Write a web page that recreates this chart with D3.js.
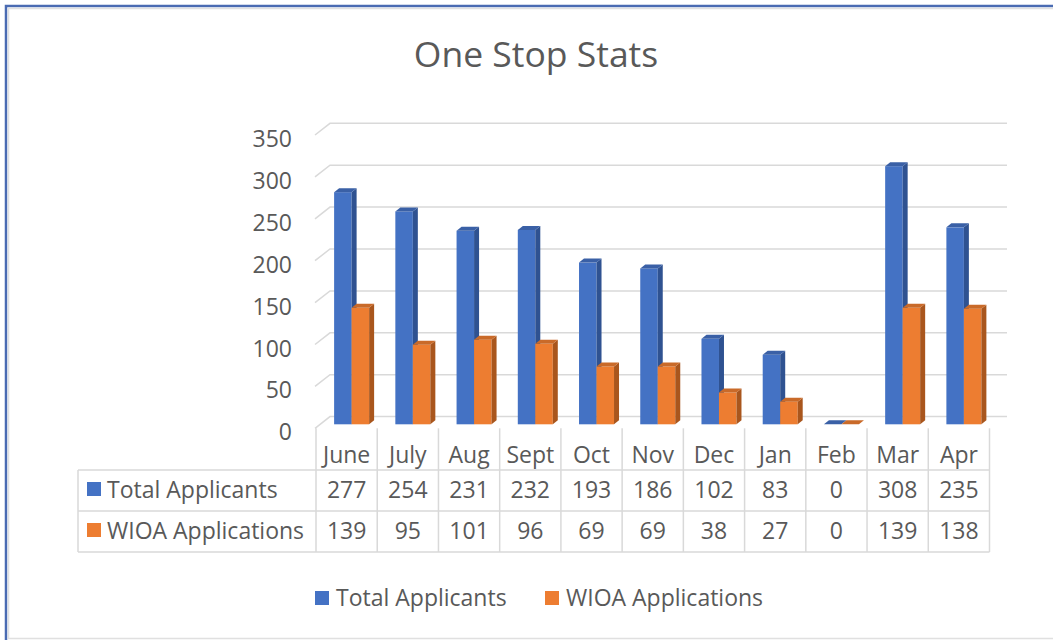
<!DOCTYPE html>
<html>
<head>
<meta charset="utf-8">
<title>One Stop Stats</title>
<script src="https://cdn.jsdelivr.net/npm/d3@7"></script>
<style>
    html, body { margin: 0; padding: 0; background: #fff; }
    #chart { width: 1053px; height: 640px; }
    text { font-family: "Open Sans", "Noto Sans", sans-serif; fill: #595959; }
</style>
</head>
<body>
<div id="chart"></div>
<script>
// Data
const months = ["June", "July", "Aug", "Sept", "Oct", "Nov", "Dec", "Jan", "Feb", "Mar", "Apr"];
const totalApplicants = [277, 254, 231, 232, 193, 186, 102, 83, 0, 308, 235];
const wioaApplications = [139, 95, 101, 96, 69, 69, 38, 27, 0, 139, 138];
const seriesNames = ["Total Applicants", "WIOA Applications"];
const yTicks = [0, 50, 100, 150, 200, 250, 300, 350];

document.addEventListener("DOMContentLoaded", () => {
    const width = 1053, height = 640;
    const fontSize = "23px";
    const colors = [
        { front: "#4472C4", side: "#2f5291", top: "#3a60a6" },
        { front: "#ED7D31", side: "#a9561d", top: "#c96a29" }
    ];
    const series = [totalApplicants, wioaApplications];

    const svg = d3.select("#chart").append("svg")
        .attr("width", width)
        .attr("height", height);

    // Outer frame (blue on left/top, grey inner edge)
    svg.append("path")
        .attr("d", `M6,${height} V6 H${width}`)
        .attr("fill", "none").attr("stroke", "#4a6bb2").attr("stroke-width", 2.5);
    svg.append("path")
        .attr("d", `M${width},8.5 H8.5 V638.5 H${width}`)
        .attr("fill", "none").attr("stroke", "#e0e0e0").attr("stroke-width", 1.5);

    // Title
    svg.append("text")
        .attr("x", 536).attr("y", 67)
        .attr("text-anchor", "middle")
        .style("font-size", "35.5px")
        .text("One Stop Stats");

    // Scales: the x band matches the data table columns (front plane)
    const x = d3.scaleBand().domain(months).range([316, 989.5]);
    const y = d3.scaleLinear().domain([0, 350]).range([428.3, 135]);
    const depth = { dx: 15, dy: -11.7 };      // floor depth (front to back wall)
    const barShift = { dx: 5, dy: -4 };       // bar front face behind front plane
    const barDepth = { dx: 5, dy: -4 };       // bar thickness
    const barW = 17.5;
    const groupOff = (x.bandwidth() - barW * 2) / 2;

    // Gridlines: side-wall diagonal + back wall line
    const grid = svg.append("g").attr("stroke", "#d9d9d9").attr("stroke-width", 1.5).attr("fill", "none");
    yTicks.forEach(t => {
        const yf = y(t);
        grid.append("path")
            .attr("d", `M315,${yf} L${315 + depth.dx},${yf + depth.dy} H1007`);
    });

    // Y axis labels
    svg.append("g").selectAll("text")
        .data(yTicks)
        .enter().append("text")
        .attr("x", 292)
        .attr("y", d => y(d) + 3)
        .attr("text-anchor", "end")
        .attr("dominant-baseline", "central")
        .style("font-size", fontSize)
        .text(d => d);

    // 3D bars
    const bars = svg.append("g");
    months.forEach((m, i) => {
        series.forEach((vals, s) => {
            const v = vals[i];
            const x0 = x(m) + barShift.dx + groupOff + s * barW;
            const x1 = x0 + barW;
            const yb = y(0) + barShift.dy;
            const yt = y(v) + barShift.dy;
            const c = colors[s];
            const g = bars.append("g");
            if (v > 0) {
                g.append("rect")
                    .attr("x", x0).attr("y", yt)
                    .attr("width", barW).attr("height", yb - yt)
                    .attr("fill", c.front);
                g.append("path")
                    .attr("d", `M${x1},${yt} L${x1 + barDepth.dx},${yt + barDepth.dy} L${x1 + barDepth.dx},${yb + barDepth.dy} L${x1},${yb} Z`)
                    .attr("fill", c.side);
            }
            g.append("path")
                .attr("d", `M${x0},${yt} L${x1},${yt} L${x1 + barDepth.dx},${yt + barDepth.dy} L${x0 + barDepth.dx},${yt + barDepth.dy} Z`)
                .attr("fill", c.top);
        });
    });

    // Data table
    const rowTop = 470, rowH = 41, tableLeft = 78, tableRight = x.range()[1];
    const tbl = svg.append("g").attr("stroke", "#d9d9d9").attr("stroke-width", 1.5).attr("fill", "none");
    [rowTop, rowTop + rowH, rowTop + rowH * 2].forEach(yy => {
        tbl.append("line").attr("x1", tableLeft).attr("x2", tableRight).attr("y1", yy).attr("y2", yy);
    });
    tbl.append("line").attr("x1", tableLeft).attr("x2", tableLeft)
        .attr("y1", rowTop).attr("y2", rowTop + rowH * 2);
    months.concat(["_end"]).forEach((m, i) => {
        const xx = i < months.length ? x(m) : tableRight;
        tbl.append("line").attr("x1", xx).attr("x2", xx)
            .attr("y1", 428.3).attr("y2", rowTop + rowH * 2);
    });

    // Header row (month names)
    svg.append("g").selectAll("text")
        .data(months)
        .enter().append("text")
        .attr("x", d => x(d) + x.bandwidth() / 2)
        .attr("y", 462.5)
        .attr("text-anchor", "middle")
        .style("font-size", fontSize)
        .text(d => d);

    // Series rows
    series.forEach((vals, s) => {
        const base = rowTop + s * rowH;
        svg.append("rect")
            .attr("x", 87).attr("y", base + 12)
            .attr("width", 14).attr("height", 14)
            .attr("fill", colors[s].front);
        svg.append("text")
            .attr("x", 107).attr("y", base + 28)
            .style("font-size", fontSize)
            .text(seriesNames[s]);
        svg.append("g").selectAll("text")
            .data(vals)
            .enter().append("text")
            .attr("x", (d, i) => x(months[i]) + x.bandwidth() / 2)
            .attr("y", base + 28)
            .attr("text-anchor", "middle")
            .style("font-size", fontSize)
            .text(d => d);
    });

    // Legend
    const legendX = [315, 545];
    seriesNames.forEach((name, s) => {
        svg.append("rect")
            .attr("x", legendX[s]).attr("y", 591)
            .attr("width", 14).attr("height", 14)
            .attr("fill", colors[s].front);
        svg.append("text")
            .attr("x", legendX[s] + 21).attr("y", 605.5)
            .style("font-size", fontSize)
            .text(name);
    });
});
</script>
</body>
</html>
